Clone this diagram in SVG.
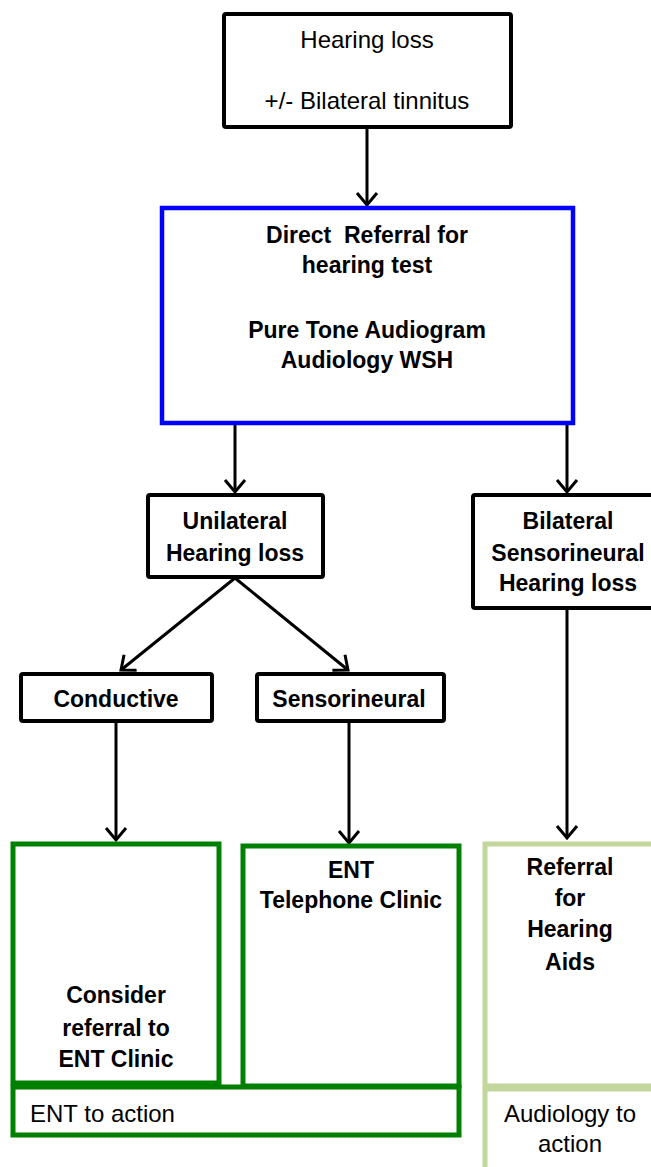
<svg xmlns="http://www.w3.org/2000/svg" width="651" height="1167" viewBox="0 0 651 1167">
<style>
text{font-family:"Liberation Sans",Arial,sans-serif;text-anchor:middle;fill:#000}
.b{font-weight:bold;font-size:23px}
.r{font-size:24px}
.bk{fill:#fff;stroke:#000;stroke-width:4}
.bl{fill:#fff;stroke:#0000ff;stroke-width:4.5}
.gr{fill:#fff;stroke:#008000;stroke-width:5}
.lg{fill:#fff;stroke:#c3d69b;stroke-width:5}
.c{stroke:#000;stroke-width:3;fill:none;marker-end:url(#ah)}
</style>
<defs>
<marker id="ah" markerUnits="userSpaceOnUse" markerWidth="16" markerHeight="24" viewBox="0 0 16 24" refX="13" refY="12" orient="auto">
<path d="M1,2 L13,12 L1,22" fill="none" stroke="#000" stroke-width="3"/>
</marker>
</defs>
<rect width="651" height="1167" fill="#fff"/>
<g id="connectors">
<line class="c" x1="367" y1="127" x2="367" y2="205"/>
<line class="c" x1="235" y1="424" x2="235" y2="492"/>
<line class="c" x1="567" y1="424" x2="567" y2="492"/>
<line class="c" x1="235" y1="578" x2="121" y2="670"/>
<line class="c" x1="235" y1="578" x2="348" y2="670"/>
<line class="c" x1="116" y1="722" x2="116" y2="840"/>
<line class="c" x1="349" y1="722" x2="349" y2="843"/>
<line class="c" x1="567" y1="609" x2="567" y2="838"/>
</g>
<g id="start">
<rect class="bk" x="224" y="14" width="287" height="113" rx="2"/>
<text class="r" x="367" y="48">Hearing loss</text>
<text class="r" x="367" y="109">+/- Bilateral tinnitus</text>
</g>
<g id="referral">
<rect class="bl" x="162" y="208" width="411" height="215"/>
<text class="b" x="367" y="243" style="white-space:pre">Direct  Referral for</text>
<text class="b" x="367" y="273">hearing test</text>
<text class="b" x="367" y="338">Pure Tone Audiogram</text>
<text class="b" x="367" y="368">Audiology WSH</text>
</g>
<g id="unilateral">
<rect class="bk" x="148" y="495" width="175" height="82" rx="2"/>
<text class="b" x="235" y="529">Unilateral</text>
<text class="b" x="235" y="561">Hearing loss</text>
</g>
<g id="bilateral">
<rect class="bk" x="473" y="495" width="190" height="113" rx="2"/>
<text class="b" x="568" y="529">Bilateral</text>
<text class="b" x="568" y="561">Sensorineural</text>
<text class="b" x="568" y="591">Hearing loss</text>
</g>
<g id="conductive">
<rect class="bk" x="21" y="674" width="191" height="47" rx="2"/>
<text class="b" x="116" y="707">Conductive</text>
</g>
<g id="sensorineural">
<rect class="bk" x="257" y="674" width="187" height="47" rx="2"/>
<text class="b" x="349" y="707">Sensorineural</text>
</g>
<g id="ent-action">
<rect class="gr" x="13" y="1087" width="446" height="48"/>
<text class="r" x="30" y="1122" style="text-anchor:start">ENT to action</text>
</g>
<g id="consider">
<rect class="gr" x="13" y="844" width="206" height="239"/>
<text class="b" x="116" y="1003">Consider</text>
<text class="b" x="116" y="1036">referral to</text>
<text class="b" x="116" y="1067">ENT Clinic</text>
</g>
<g id="telephone">
<rect class="gr" x="243" y="846" width="216" height="240"/>
<text class="b" x="351" y="878">ENT</text>
<text class="b" x="351" y="908">Telephone Clinic</text>
</g>
<g id="hearing-aids">
<rect class="lg" x="485" y="844" width="175" height="242"/>
<text class="b" x="570" y="875">Referral</text>
<text class="b" x="570" y="906">for</text>
<text class="b" x="570" y="937">Hearing</text>
<text class="b" x="570" y="970">Aids</text>
</g>
<g id="audiology-action">
<rect class="lg" x="485" y="1089" width="175" height="90"/>
<text class="r" x="570" y="1122">Audiology to</text>
<text class="r" x="570" y="1152">action</text>
</g>
</svg>
